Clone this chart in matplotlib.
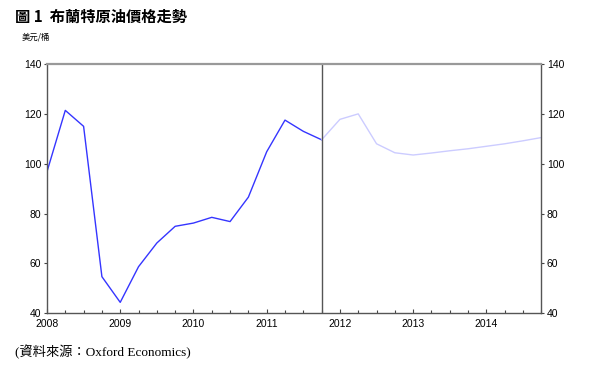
import numpy as np
import matplotlib
matplotlib.use("Agg")
import matplotlib.pyplot as plt
from matplotlib.ticker import MultipleLocator

# 季度資料 (2008Q1 - 2011Q4 實際值, 2011Q4 - 2014Q4 預測值)
actual_x = [2008.0, 2008.25, 2008.5, 2008.75, 2009.0, 2009.25, 2009.5, 2009.75,
            2010.0, 2010.25, 2010.5, 2010.75, 2011.0, 2011.25, 2011.5, 2011.75]
actual_y = [96.8, 121.4, 115.0, 54.7, 44.4, 58.7, 68.2, 74.9,
            76.2, 78.5, 76.8, 86.6, 104.8, 117.5, 113.0, 109.6]

forecast_x = [2011.75, 2012.0, 2012.25, 2012.5, 2012.75, 2013.0, 2013.25, 2013.5,
              2013.75, 2014.0, 2014.25, 2014.5, 2014.75]
forecast_y = [109.6, 117.8, 120.0, 108.0, 104.4, 103.5, 104.3, 105.2,
              106.0, 107.0, 108.0, 109.2, 110.5]

year_ticks = [2008, 2009, 2010, 2011, 2012, 2013, 2014]
split_year = 2011.75

plt.rcParams['font.family'] = ['Liberation Sans', 'Noto Sans CJK TC']

fig = plt.figure(figsize=(6.07, 3.73), dpi=100)
ax = fig.add_axes([0.0774, 0.160, 0.8144, 0.6684])

ax.plot(actual_x, actual_y, color='#3535ff', lw=1.0)
ax.plot(forecast_x, forecast_y, color='#ccccff', lw=1.0)
ax.axvline(split_year, color='#555555', lw=1.0)

ax.set_xlim(2008, 2014.75)
ax.set_ylim(40, 140)
ax.set_xticks(year_ticks)
ax.set_xticklabels([str(y) for y in year_ticks])
ax.xaxis.set_minor_locator(MultipleLocator(0.25))
ax.yaxis.set_major_locator(MultipleLocator(20))

ax.tick_params(axis='x', which='major', direction='in', length=3, width=0.8,
               color='#444444', labelsize=7.5, pad=4)
ax.tick_params(axis='x', which='minor', direction='in', length=2, width=0.8,
               color='#444444')
ax.tick_params(axis='y', which='major', direction='out', length=2, width=0.8,
               color='#444444', labelsize=7.5, pad=2,
               left=True, right=True, labelleft=True, labelright=True)

for side in ['left', 'right', 'bottom']:
    ax.spines[side].set_color('#555555')
    ax.spines[side].set_linewidth(1.0)
ax.spines['top'].set_color('#999999')
ax.spines['top'].set_linewidth(1.6)

# 標題與單位
fig.text(15 / 607, 1 - 17 / 373, '圖 1  布蘭特原油價格走勢', fontsize=11,
         fontweight='bold', family=['Noto Sans CJK TC'], va='center', ha='left')
fig.text(22 / 607, 1 - 37 / 373, '美元/桶', fontsize=6,
         family=['Noto Sans CJK TC'], va='center', ha='left')

# 資料來源
fig.text(15 / 607, 1 - 352 / 373, '(資料來源：Oxford Economics)', fontsize=9.5,
         family=['Liberation Serif', 'Noto Sans CJK TC'], va='center', ha='left')

fig.savefig('out.png', dpi=100)
plt.close(fig)
